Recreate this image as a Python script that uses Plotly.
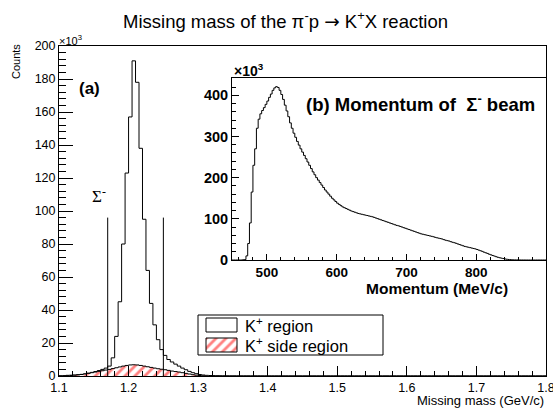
import numpy as np
import plotly.graph_objects as go

W, H = 553, 409

# ---------------- data ----------------
# Missing mass histogram, bins of 0.005 GeV/c^2 starting at 1.10 (counts in units of 10^3)
mm_start, mm_width = 1.10, 0.005
k_region = [
    0.2, 0.3, 0.4, 0.5, 0.6, 0.8, 1.0, 1.3, 1.7, 2.2,
    2.7, 3.3, 4.0, 4.8, 6.0, 11, 24, 45, 80, 123,
    157, 191, 178, 138, 95, 64, 44, 31, 22, 16,
    12.5, 10, 8.5, 7.2, 6.0, 4.8, 3.8, 2.8, 2.0, 1.4,
    0.9, 0.6, 0.4, 0.3, 0.2, 0.15, 0.1, 0.08, 0.06, 0.05,
    0.05, 0.04, 0.04, 0.04, 0.03, 0.03, 0.03, 0.03, 0.02, 0.02,
    0.02, 0.02, 0.02, 0.02, 0.02, 0.02, 0.02, 0.02, 0.02, 0.02,
    0.02, 0.02, 0.02, 0.02, 0.02, 0.02, 0.02, 0.02, 0.02, 0.02,
    0.02, 0.02, 0.02, 0.02, 0.02, 0.02, 0.02, 0.02, 0.02, 0.02,
    0.02, 0.02, 0.02, 0.02, 0.02, 0.02, 0.02, 0.02, 0.02, 0.02,
    0.02, 0.02, 0.02, 0.02, 0.02, 0.02, 0.02, 0.02, 0.02, 0.02,
    0.02, 0.02, 0.02, 0.02, 0.02, 0.02, 0.02, 0.02, 0.02, 0.02,
    0.02, 0.02, 0.02, 0.02, 0.02, 0.02, 0.02, 0.02, 0.02, 0.02,
    0.02, 0.02, 0.02, 0.02, 0.02, 0.02, 0.02, 0.02, 0.02, 0.02,
]
k_side = [
    0.1, 0.15, 0.2, 0.3, 0.45, 0.65, 0.9, 1.2, 1.6, 2.0,
    2.4, 2.8, 3.2, 3.6, 4.0, 4.5, 5.0, 5.5, 6.0, 6.4,
    6.7, 6.8, 6.7, 6.4, 6.0, 5.6, 5.2, 4.8, 4.4, 4.1,
    3.8, 3.4, 3.0, 2.7, 2.4, 2.0, 1.6, 1.2, 0.8, 0.5,
    0.3, 0.15, 0.08, 0.04, 0.02, 0.01, 0.0, 0.0, 0.0, 0.0,
    0, 0, 0, 0, 0, 0, 0, 0, 0, 0,
    0, 0, 0, 0, 0, 0, 0, 0, 0, 0,
    0, 0, 0, 0, 0, 0, 0, 0, 0, 0,
    0, 0, 0, 0, 0, 0, 0, 0, 0, 0,
    0, 0, 0, 0, 0, 0, 0, 0, 0, 0,
    0, 0, 0, 0, 0, 0, 0, 0, 0, 0,
    0, 0, 0, 0, 0, 0, 0, 0, 0, 0,
    0, 0, 0, 0, 0, 0, 0, 0, 0, 0,
    0, 0, 0, 0, 0, 0, 0, 0, 0, 0,
]
sigma_cuts = [1.17, 1.25]
cut_height = 96

# Momentum of Sigma- beam, bins of 2.5 MeV/c starting at 450 (counts in 10^3)
mom_start, mom_width = 450, 2.5
beam = [
    0, 0, 0, 0, 0, 0, 0.5, 1, 10, 40,
    90, 165, 230, 270, 320, 342, 355, 363, 370, 378,
    386, 395, 403, 412, 418, 421, 419, 412, 402, 390,
    376, 362, 348, 333, 320, 308, 298, 288, 279, 270,
    262, 254, 246, 238, 230, 222, 214, 207, 200, 194,
    188, 182, 176, 170, 165, 160, 155, 150, 146, 142,
    138, 135, 132, 129, 127, 125, 123, 121, 119, 117.5,
    116, 114.5, 113, 112, 111, 110, 109, 108, 107, 106,
    105, 103.5, 102, 100.5, 99, 97.5, 96, 94.5, 93, 91.5,
    90, 88.5, 87, 85.5, 84, 83, 81.5, 80, 78.5, 77,
    75.5, 74, 72.5, 71, 69.5, 68, 66.5, 65, 63.5, 62.5,
    61.5, 60.5, 59.5, 58.5, 57.5, 56.5, 55, 54, 53, 52,
    51, 49.5, 48, 47, 46, 44.5, 43, 42, 40.5, 39,
    37.5, 36, 34.5, 33, 32, 31, 30, 29, 28, 27,
    25.5, 24, 22.5, 21, 19, 17.5, 16, 14, 12.5, 11,
    9.5, 8, 6.5, 5.5, 4.5, 3.5, 2.6, 1.9, 1.3, 0.9,
    0.6, 0.4, 0.3, 0.2, 0.15, 0.1, 0.05, 0.02, 0, 0,
    0, 0, 0, 0, 0, 0, 0, 0, 0, 0,
]

main_xticks = [1.1, 1.2, 1.3, 1.4, 1.5, 1.6, 1.7, 1.8]
inset_xticks = [500, 600, 700, 800]
inset_yticks = [0, 100, 200, 300, 400]

# ---------------- helpers ----------------
def step_xy(start, width, vals):
    edges = start + width * np.arange(len(vals) + 1)
    return edges, list(vals) + [vals[-1]]

def px(x):
    return x / W

def py(y):
    return 1 - y / H

FONT = "Liberation Sans"
HATCH = dict(shape="/", fgcolor="#ff0000", bgcolor="white", size=7, solidity=0.4)

fig = go.Figure()

# main histogram
x, y = step_xy(mm_start, mm_width, k_region)
fig.add_trace(go.Scatter(x=x, y=y, mode="lines", line=dict(color="black", width=1, shape="hv"),
                         xaxis="x", yaxis="y", showlegend=False, hoverinfo="skip"))
# side region (hatched)
x, y = step_xy(mm_start, mm_width, k_side)
fig.add_trace(go.Scatter(x=x, y=y, mode="lines", line=dict(color="black", width=1, shape="hv"),
                         fill="tozeroy", fillcolor="white", fillpattern=HATCH,
                         xaxis="x", yaxis="y", showlegend=False, hoverinfo="skip"))
# sigma cut lines
for c in sigma_cuts:
    fig.add_trace(go.Scatter(x=[c, c], y=[0, cut_height], mode="lines",
                             line=dict(color="black", width=1), xaxis="x", yaxis="y",
                             showlegend=False, hoverinfo="skip"))
# inset histogram
x, y = step_xy(mom_start, mom_width, beam)
fig.add_trace(go.Scatter(x=x, y=y, mode="lines", line=dict(color="black", width=1, shape="hv"),
                         xaxis="x2", yaxis="y2", showlegend=False, hoverinfo="skip"))

# legend swatch for hatched entry (overlay pixel axis)
LX0, LX1 = 206, 237
LY2a, LY2b = 338, 352
fig.add_trace(go.Scatter(x=[LX0, LX1, LX1, LX0, LX0], y=[LY2a, LY2a, LY2b, LY2b, LY2a],
                         mode="lines", line=dict(color="black", width=1), fill="toself",
                         fillcolor="white", fillpattern=HATCH,
                         xaxis="x3", yaxis="y3", showlegend=False, hoverinfo="skip"))

common = dict(showline=True, linecolor="black", linewidth=1, mirror=True, showgrid=False,
              zeroline=False, ticks="inside", tickcolor="black", automargin=False,
              ticklabeloverflow="allow")

fig.update_layout(
    width=W, height=H, margin=dict(l=0, r=0, t=0, b=0, autoexpand=False),
    paper_bgcolor="white", plot_bgcolor="rgba(0,0,0,0)",
    font=dict(family=FONT, color="black"),
    xaxis=dict(domain=[px(59), px(546)], range=[1.1, 1.8], tickvals=main_xticks,
               ticktext=[f"{v:.1f}" for v in main_xticks], ticklen=10,
               minor=dict(dtick=0.02, tick0=1.1, ticklen=5, ticks="inside", tickcolor="black"),
               tickfont=dict(size=12.5, family=FONT), anchor="y", **common),
    yaxis=dict(domain=[py(376), py(46)], range=[0, 200], dtick=20, ticklen=14,
               minor=dict(dtick=4, ticklen=7, ticks="inside", tickcolor="black"),
               tickfont=dict(size=12.5, family=FONT), anchor="x", **common),
    xaxis2=dict(domain=[px(232), px(546)], range=[450, 900], tickvals=inset_xticks, ticklen=6,
                minor=dict(dtick=20, tick0=0, ticklen=3, ticks="inside", tickcolor="black"),
                tickfont=dict(size=13.5, family=FONT, weight="bold"), anchor="y2", **common),
    yaxis2=dict(domain=[py(260), py(78)], range=[0, 442], tickvals=inset_yticks, ticklen=7,
                minor=dict(dtick=20, ticklen=4, ticks="inside", tickcolor="black"),
                tickfont=dict(size=14.5, family=FONT, weight="bold"), anchor="x2", **common),
    xaxis3=dict(domain=[0, 1], range=[0, W], visible=False, fixedrange=True, anchor="y3"),
    yaxis3=dict(domain=[0, 1], range=[H, 0], visible=False, fixedrange=True, anchor="x3"),
)

# legend box and white swatch
fig.add_shape(type="rect", xref="paper", yref="paper", x0=px(198), x1=px(383), y0=py(355), y1=py(315),
              line=dict(color="black", width=1), fillcolor="white", layer="below")
fig.add_shape(type="rect", xref="paper", yref="paper", x0=px(LX0), x1=px(LX1), y0=py(332), y1=py(318),
              line=dict(color="black", width=1), fillcolor="white", layer="above")

def ann(text, x, y, size, xanchor="center", yanchor="middle", bold=False, family=FONT, angle=0):
    fig.add_annotation(text=text, x=px(x), y=py(y), xref="paper", yref="paper", showarrow=False,
                       xanchor=xanchor, yanchor=yanchor, textangle=angle,
                       font=dict(size=size, family=family, color="black", weight="bold" if bold else "normal"))

ann("Missing mass of the π<sup>-</sup>p <span style=\"font-family:'DejaVu Sans'\">→</span> K<sup>+</sup>X reaction",
    285, 20, 18.5)
ann("Counts", 16, 62, 11, angle=-90)
ann("×10<sup>3</sup>", 57, 40, 11, xanchor="left")
ann("Missing mass (GeV/c)", 546, 400, 13, xanchor="right")
ann("(a)", 89, 88, 17, bold=True)
ann("Σ<sup>-</sup>", 99, 195, 17, family="Liberation Serif")
ann("×10<sup>3</sup>", 232, 70, 14, xanchor="left", bold=True)
ann("(b) Momentum of  Σ<sup>-</sup> beam", 537, 103, 18.5, xanchor="right", bold=True)
ann("Momentum (MeV/c)", 510, 288, 15.5, xanchor="right", bold=True)
ann("K<sup>+</sup> region", 243, 325, 16.5, xanchor="left")
ann("K<sup>+</sup> side region", 243, 345, 16.5, xanchor="left")

fig.write_html("out.html")
